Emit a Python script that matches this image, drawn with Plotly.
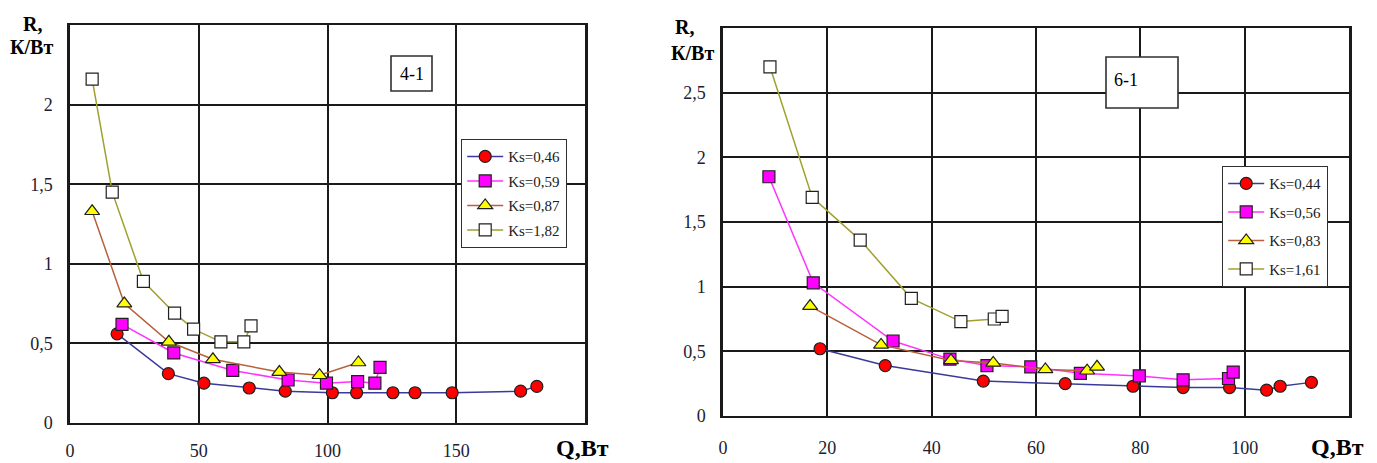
import plotly.graph_objects as go

# ---- Panel "4-1" : thermal resistance R vs heat load Q ----
q_046 = [18.3, 38.2, 52.0, 69.6, 83.6, 101.9, 111.3, 125.4, 134.0, 148.4, 175.0, 181.3]
r_046 = [0.56, 0.31, 0.25, 0.22, 0.20, 0.19, 0.19, 0.19, 0.19, 0.19, 0.20, 0.23]

q_059 = [20.2, 40.3, 63.2, 84.7, 99.6, 111.7, 118.4, 120.4]
r_059 = [0.62, 0.44, 0.33, 0.27, 0.25, 0.26, 0.25, 0.35]

q_087 = [8.6, 21.1, 38.4, 55.5, 81.3, 96.9, 112.0]
r_087 = [1.33, 0.75, 0.51, 0.40, 0.32, 0.30, 0.38]

q_182 = [8.6, 16.4, 28.5, 40.6, 48.0, 58.6, 67.5, 70.3]
r_182 = [2.16, 1.45, 0.89, 0.69, 0.59, 0.51, 0.51, 0.61]

# ---- Panel "6-1" ----
q_044 = [18.6, 31.1, 49.9, 65.6, 78.6, 88.2, 97.1, 104.2, 106.8, 112.8]
r_044 = [0.52, 0.39, 0.27, 0.25, 0.23, 0.22, 0.22, 0.20, 0.23, 0.26]

q_056 = [8.8, 17.3, 32.6, 43.5, 50.6, 59.0, 68.5, 79.8, 88.2, 96.9, 97.8]
r_056 = [1.85, 1.03, 0.58, 0.44, 0.39, 0.38, 0.33, 0.31, 0.28, 0.29, 0.34]

q_083 = [16.7, 30.3, 43.7, 51.8, 61.8, 69.8, 71.7]
r_083 = [0.85, 0.55, 0.43, 0.41, 0.36, 0.35, 0.38]

q_161 = [9.0, 17.1, 26.3, 36.1, 45.6, 52.0, 53.5]
r_161 = [2.70, 1.69, 1.36, 0.91, 0.73, 0.75, 0.77]

# axis ticks
x1_ticks = [0, 50, 100, 150, 200]
x1_text = ["0", "50", "100", "150", ""]
y1_ticks = [0, 0.5, 1, 1.5, 2, 2.5]
y1_text = ["0", "0,5", "1", "1,5", "2", ""]
x2_ticks = [0, 20, 40, 60, 80, 100, 120]
x2_text = ["0", "20", "40", "60", "80", "100", ""]
y2_ticks = [0, 0.5, 1, 1.5, 2, 2.5, 3]
y2_text = ["0", "0,5", "1", "1,5", "2", "2,5", ""]

SERIF = "Liberation Serif"
W, H = 1377, 463

# series styles: (marker symbol, fill, line colour, size)
styles = {
    "circle": ("circle", "#FF0000", "#3A3A9A", 12),
    "magenta": ("square", "#FF00FF", "#FF33FF", 12),
    "tri": ("triangle-up", "#FFFF00", "#B8603C", 13),
    "open": ("square", "#FFFFFF", "#A0A030", 12),
}

fig = go.Figure()


def add(q, r, name, style, xa, ya, legend):
    sym, fill, lc, size = styles[style]
    fig.add_trace(go.Scatter(
        x=q, y=r, name=name, mode="lines+markers",
        xaxis=xa, yaxis=ya, legend=legend, legendgroup=name + legend,
        line=dict(color=lc, width=1.5),
        marker=dict(symbol=sym, size=size, color=fill,
                    line=dict(color="#202020", width=1.2)),
    ))


add(q_046, r_046, "Ks=0,46", "circle", "x", "y", "legend")
add(q_059, r_059, "Ks=0,59", "magenta", "x", "y", "legend")
add(q_087, r_087, "Ks=0,87", "tri", "x", "y", "legend")
add(q_182, r_182, "Ks=1,82", "open", "x", "y", "legend")

add(q_044, r_044, "Ks=0,44", "circle", "x2", "y2", "legend2")
add(q_056, r_056, "Ks=0,56", "magenta", "x2", "y2", "legend2")
add(q_083, r_083, "Ks=0,83", "tri", "x2", "y2", "legend2")
add(q_161, r_161, "Ks=1,61", "open", "x2", "y2", "legend2")


def px_x(p):
    return p / W


def px_y(p):
    return 1 - p / H


axis_common = dict(
    showgrid=True, gridcolor="#1A1A1A", gridwidth=1.6,
    showline=True, linecolor="#1A1A1A", linewidth=1.6, mirror=True,
    zeroline=False, ticks="", tickmode="array", automargin=False,
    tickfont=dict(family=SERIF, size=18, color="#202030"),
)

legend_common = dict(
    xanchor="left", yanchor="top",
    bgcolor="white", bordercolor="#303030", borderwidth=1.2,
    font=dict(family=SERIF, size=15, color="#202020"),
    itemwidth=36,
)

fig.update_layout(
    width=W, height=H,
    margin=dict(l=0, r=0, t=0, b=0),
    paper_bgcolor="white", plot_bgcolor="white",
    xaxis=dict(axis_common, domain=[px_x(70), px_x(585)], range=[0, 200],
               tickvals=x1_ticks, ticktext=x1_text, anchor="y",
               ticklabelstandoff=11),
    yaxis=dict(axis_common, domain=[px_y(423), px_y(25)], range=[0, 2.5],
               tickvals=y1_ticks, ticktext=y1_text, anchor="x",
               ticklabelstandoff=11),
    xaxis2=dict(axis_common, domain=[px_x(723), px_x(1349)], range=[0, 120],
                tickvals=x2_ticks, ticktext=x2_text, anchor="y2",
                ticklabelstandoff=15),
    yaxis2=dict(axis_common, domain=[px_y(416), px_y(28)], range=[0, 3],
                tickvals=y2_ticks, ticktext=y2_text, anchor="x2",
                ticklabelstandoff=11),
    legend=dict(legend_common, x=px_x(461), y=px_y(139), tracegroupgap=2),
    legend2=dict(legend_common, x=px_x(1222), y=px_y(166), tracegroupgap=6),
    showlegend=True,
)

# the y-axis lines on the left side are drawn heavier
fig.update_yaxes(linewidth=2.5)


def label(text, xp, yp, size=20, bold=True, xanchor="center"):
    fig.add_annotation(text=("<b>" + text + "</b>") if bold else text,
                       x=px_x(xp), y=px_y(yp), xref="paper", yref="paper",
                       xanchor=xanchor, yanchor="middle", showarrow=False,
                       font=dict(family=SERIF, size=size, color="black"))


label("R,", 32, 24)
label("К/Вт", 31, 47)
label("Q,Вт", 582, 448, 24)
label("R,", 684, 27)
label("К/Вт", 692, 53)
label("Q,Вт", 1337, 447, 24)

# panel tags: framed boxes with the sample name
for x0, y0, x1, y1 in [(391, 56, 432, 91), (1106, 57, 1178, 108)]:
    fig.add_shape(type="rect", xref="paper", yref="paper",
                  x0=px_x(x0), x1=px_x(x1), y0=px_y(y1), y1=px_y(y0),
                  fillcolor="white", line=dict(color="#303030", width=1.6),
                  layer="above")
label("4-1", 411.5, 74, 18, bold=False)
label("6-1", 1112, 80, 18, bold=False, xanchor="left")

fig.write_html("out.html")
